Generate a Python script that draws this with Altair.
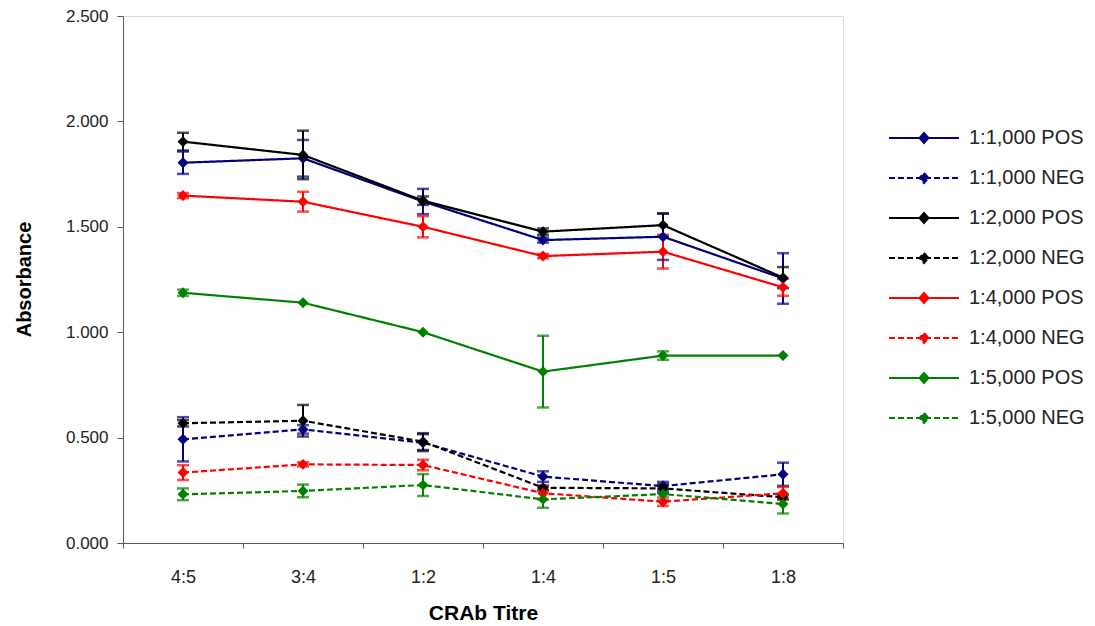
import altair as alt
import pandas as pd

categories = ["4:5", "3:4", "1:2", "1:4", "1:5", "1:8"]

series_names = [
    "1:1,000 POS", "1:1,000 NEG",
    "1:2,000 POS", "1:2,000 NEG",
    "1:4,000 POS", "1:4,000 NEG",
    "1:5,000 POS", "1:5,000 NEG",
]
series_colors = ["#000080", "#000080", "#000000", "#000000",
                 "#FF0000", "#FF0000", "#008000", "#008000"]
series_dashes = [[1, 0], [6, 3], [1, 0], [6, 3], [1, 0], [6, 3], [1, 0], [6, 3]]

pos_1000 = [1.804, 1.825, 1.620, 1.437, 1.453, 1.255]
neg_1000 = [0.492, 0.539, 0.476, 0.315, 0.270, 0.326]
pos_2000 = [1.904, 1.841, 1.624, 1.477, 1.508, 1.259]
neg_2000 = [0.568, 0.580, 0.481, 0.262, 0.259, 0.217]
pos_4000 = [1.648, 1.619, 1.500, 1.361, 1.382, 1.213]
neg_4000 = [0.334, 0.373, 0.370, 0.236, 0.196, 0.236]
pos_5000 = [1.187, 1.140, 1.000, 0.813, 0.889, 0.889]
neg_5000 = [0.231, 0.247, 0.275, 0.207, 0.232, 0.185]

err_pos_1000 = [0.053, 0.087, 0.060, 0.012, 0.110, 0.120]
err_neg_1000 = [0.105, 0.020, 0.040, 0.025, 0.020, 0.055]
err_pos_2000 = [0.042, 0.115, 0.020, 0.015, 0.055, 0.050]
err_neg_2000 = [0.015, 0.075, 0.040, 0.010, 0.020, 0.010]
err_pos_4000 = [0.012, 0.047, 0.050, 0.010, 0.080, 0.040]
err_neg_4000 = [0.035, 0.010, 0.025, 0.030, 0.020, 0.030]
err_pos_5000 = [0.015, 0.000, 0.000, 0.170, 0.020, 0.000]
err_neg_5000 = [0.028, 0.030, 0.052, 0.040, 0.030, 0.045]

values = [pos_1000, neg_1000, pos_2000, neg_2000, pos_4000, neg_4000, pos_5000, neg_5000]
errors = [err_pos_1000, err_neg_1000, err_pos_2000, err_neg_2000,
          err_pos_4000, err_neg_4000, err_pos_5000, err_neg_5000]

rows = []
for s, vals, errs in zip(series_names, values, errors):
    for i, (c, v, e) in enumerate(zip(categories, vals, errs)):
        rows.append({"series": s, "titre": c, "idx": i, "absorbance": v,
                     "err": e, "lo": v - e, "hi": v + e})
df = pd.DataFrame(rows)

FONT = "Liberation Sans"
AXIS_COLOR = "#595959"


def xenc():
    return alt.X(
        "titre:N", sort=categories, bandPosition=0.5,
        scale=alt.Scale(type="band", domain=categories, paddingInner=0, paddingOuter=0),
        axis=alt.Axis(title="CRAb Titre", tickBand="extent", labelAngle=0, grid=False,
                      domainColor=AXIS_COLOR, tickColor=AXIS_COLOR, tickSize=5,
                      labelFont=FONT, labelFontSize=18, labelColor="#222222", labelPadding=20,
                      labelBaseline="top",
                      titleFont=FONT, titleFontSize=21, titleFontWeight="bold",
                      titleColor="#000000", titleY=70, titleBaseline="middle"),
    )


yaxis = alt.Axis(title="Absorbance", values=[0, 0.5, 1, 1.5, 2, 2.5], format=".3f",
                 grid=False, domainColor=AXIS_COLOR, tickColor=AXIS_COLOR, tickSize=6,
                 labelFont=FONT, labelFontSize=17, labelColor="#222222", labelPadding=9,
                 titleFont=FONT, titleFontSize=20, titleFontWeight="bold",
                 titleColor="#000000", titleX=-99, titleY=263, titleBaseline="middle",
                 titleAngle=270)
yscale = alt.Scale(domain=[0, 2.5], nice=False, zero=True)

color_scale = alt.Scale(domain=series_names, range=series_colors)
dash_scale = alt.Scale(domain=series_names, range=series_dashes)

leg = alt.Legend(
    title=None, orient="none", legendX=790, legendY=111, padding=0,
    symbolType="M-3.5,0L3.5,0M0,-0.5L0.45,0L0,0.5L-0.45,0Z",
    symbolSize=400, symbolStrokeWidth=2,
    labelFont=FONT, labelFontSize=20, labelColor="#222222", labelOffset=34,
    rowPadding=19,
)

base = alt.Chart(df)

lines = base.mark_line(strokeWidth=2.2).encode(
    x=xenc(),
    y=alt.Y("absorbance:Q", scale=yscale, axis=yaxis),
    color=alt.Color("series:N", scale=color_scale, sort=series_names, legend=leg),
    strokeDash=alt.StrokeDash("series:N", scale=dash_scale, sort=series_names, legend=leg),
    order=alt.Order("idx:Q"),
)

eb_df = base.transform_filter("datum.err > 0")

rules = eb_df.mark_rule(strokeWidth=2).encode(
    x=xenc(),
    y=alt.Y("lo:Q", scale=yscale, axis=yaxis),
    y2="hi:Q",
    color=alt.Color("series:N", scale=color_scale, sort=series_names, legend=None),
)
caps_lo = eb_df.mark_tick(size=12, thickness=2.5).encode(
    x=xenc(),
    y=alt.Y("lo:Q", scale=yscale, axis=yaxis),
    color=alt.Color("series:N", scale=color_scale, sort=series_names, legend=None),
)
caps_hi = eb_df.mark_tick(size=12, thickness=2.5).encode(
    x=xenc(),
    y=alt.Y("hi:Q", scale=yscale, axis=yaxis),
    color=alt.Color("series:N", scale=color_scale, sort=series_names, legend=None),
)

points = base.mark_point(shape="diamond", filled=True, size=120, opacity=1).encode(
    x=xenc(),
    y=alt.Y("absorbance:Q", scale=yscale, axis=yaxis),
    fill=alt.Fill("series:N", scale=color_scale, sort=series_names, legend=leg),
)

chart = alt.layer(lines, rules, caps_lo, caps_hi, points).properties(
    width=720, height=527,
    autosize=alt.AutoSizeParams(type="none"),
    padding={"left": 115, "top": 8, "right": 244, "bottom": 80},
).configure_view(stroke=None).configure(background="white")

chart.save("out.html", embed_options={"renderer": "svg", "actions": False})
